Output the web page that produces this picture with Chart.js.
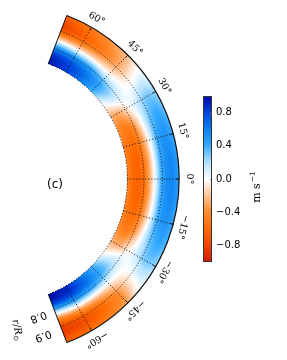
<!DOCTYPE html>
<html>
<head>
<meta charset="utf-8">
<script src="https://cdn.jsdelivr.net/npm/chart.js@4.4.1/dist/chart.umd.min.js"></script>
<style>
  body { margin: 0; background: #fff; }
  #wrap { position: relative; width: 287px; height: 360px; }
  #main { position: absolute; left: 0; top: 0; }
  #cbar { position: absolute; left: 190px; top: 80px; }
</style>
</head>
<body>
<div id="wrap">
  <canvas id="main" width="287" height="360"></canvas>
  <canvas id="cbar" width="97" height="200"></canvas>
</div>
<script>
// latitude rows (deg) and radius columns (r/Rsun)
const lats = [69, 60, 52, 45, 40, 35, 30, 22, 15, 7, 0, -7, -15, -22, -30, -35, -40, -45, -52, -60, -69];
const radii = [0.71, 0.74, 0.77, 0.80, 0.83, 0.86, 0.89, 0.92, 0.95, 0.99];
// velocity in m/s, one row per latitude
const vel = [
  [ 0.95,  0.95,  0.85,  0.60,  0.22, -0.20, -0.60, -0.80, -0.78, -0.60],
  [ 0.80,  0.82,  0.75,  0.55,  0.20, -0.20, -0.50, -0.65, -0.60, -0.50],
  [ 0.60,  0.66,  0.62,  0.48,  0.18, -0.15, -0.38, -0.50, -0.45, -0.35],
  [ 0.38,  0.45,  0.45,  0.32,  0.10, -0.10, -0.25, -0.30, -0.28, -0.20],
  [ 0.15,  0.25,  0.28,  0.22,  0.08, -0.02, -0.10, -0.10, -0.05,  0.00],
  [-0.10,  0.00,  0.08,  0.10,  0.05,  0.02,  0.05,  0.12,  0.15,  0.10],
  [-0.25, -0.30, -0.25, -0.10,  0.00,  0.10,  0.20,  0.30,  0.30,  0.25],
  [-0.40, -0.50, -0.50, -0.40, -0.15,  0.10,  0.30,  0.40,  0.45,  0.35],
  [-0.45, -0.55, -0.60, -0.50, -0.25,  0.05,  0.35,  0.50,  0.52,  0.42],
  [-0.45, -0.60, -0.65, -0.55, -0.30,  0.05,  0.37,  0.53,  0.57,  0.47],
  [-0.45, -0.60, -0.65, -0.55, -0.30,  0.05,  0.37,  0.53,  0.57,  0.47],
  [-0.45, -0.60, -0.65, -0.55, -0.30,  0.05,  0.37,  0.53,  0.57,  0.47],
  [-0.45, -0.55, -0.60, -0.50, -0.25,  0.05,  0.35,  0.50,  0.52,  0.42],
  [-0.40, -0.50, -0.50, -0.40, -0.15,  0.10,  0.30,  0.40,  0.45,  0.35],
  [-0.25, -0.30, -0.25, -0.10,  0.00,  0.10,  0.20,  0.30,  0.30,  0.25],
  [-0.10,  0.00,  0.08,  0.10,  0.05,  0.02,  0.05,  0.12,  0.15,  0.10],
  [ 0.15,  0.25,  0.28,  0.20,  0.05, -0.05, -0.12, -0.12, -0.08,  0.00],
  [ 0.38,  0.45,  0.45,  0.32,  0.08, -0.15, -0.30, -0.40, -0.40, -0.30],
  [ 0.62,  0.68,  0.64,  0.45,  0.10, -0.25, -0.48, -0.60, -0.55, -0.45],
  [ 0.88,  0.90,  0.78,  0.50,  0.10, -0.35, -0.62, -0.75, -0.70, -0.55],
  [ 1.00,  0.97,  0.80,  0.40, -0.10, -0.50, -0.75, -0.85, -0.80, -0.60]
];
const latTicks = [60, 45, 30, 15, 0, -15, -30, -45, -60];
const radTicks = [0.8, 0.9];
const cbTicks = [-0.8, -0.4, 0.0, 0.4, 0.8];

const cmapVals = [-1, -0.8, -0.6, -0.4, -0.2, 0, 0.2, 0.4, 0.6, 0.8, 1];
const cmapCols = ['#d01a00', '#ee4400', '#ff6a00', '#ff8c2e', '#ffc498', '#ffffff',
                  '#b4e2ff', '#38acff', '#0a80f0', '#0044dc', '#0008a8'];

const R_ORIGIN = 0.0432;   // polar origin offset
const LAT_MAX = 69;
const deg = Math.PI / 180;

function hexRgb(h) {
  return [parseInt(h.slice(1, 3), 16), parseInt(h.slice(3, 5), 16), parseInt(h.slice(5, 7), 16)];
}
const cmapRgb = cmapCols.map(hexRgb);
function colorFor(v) {
  if (v <= cmapVals[0]) return cmapRgb[0];
  for (let i = 0; i < cmapVals.length - 1; i++) {
    if (v <= cmapVals[i + 1]) {
      const t = (v - cmapVals[i]) / (cmapVals[i + 1] - cmapVals[i]);
      const a = cmapRgb[i], b = cmapRgb[i + 1];
      return [a[0] + (b[0] - a[0]) * t, a[1] + (b[1] - a[1]) * t, a[2] + (b[2] - a[2]) * t];
    }
  }
  return cmapRgb[cmapRgb.length - 1];
}

// shading between grid nodes
function valueAt(lat, r) {
  let i = 0;
  while (i < lats.length - 2 && lat < lats[i + 1]) i++;
  let j = 0;
  while (j < radii.length - 2 && r > radii[j + 1]) j++;
  const tl = Math.min(1, Math.max(0, (lats[i] - lat) / (lats[i] - lats[i + 1])));
  const tr = Math.min(1, Math.max(0, (r - radii[j]) / (radii[j + 1] - radii[j])));
  const a = vel[i][j] * (1 - tr) + vel[i][j + 1] * tr;
  const b = vel[i + 1][j] * (1 - tr) + vel[i + 1][j + 1] * tr;
  return a * (1 - tl) + b * tl;
}

const nodes = [];
lats.forEach((la, i) => radii.forEach((r, j) => {
  nodes.push({ x: (r - R_ORIGIN) * Math.cos(la * deg), y: (r - R_ORIGIN) * Math.sin(la * deg), v: vel[i][j] });
}));

const fieldPlugin = {
  id: 'field',
  beforeDatasetsDraw(chart) {
    const { ctx, scales: { x, y } } = chart;
    const cx = x.getPixelForValue(0), cy = y.getPixelForValue(0);
    const px = (r, la) => [x.getPixelForValue((r - R_ORIGIN) * Math.cos(la * deg)),
                           y.getPixelForValue((r - R_ORIGIN) * Math.sin(la * deg))];
    const rad = r => x.getPixelForValue(r - R_ORIGIN) - cx;
    const rIn = radii[0], rOut = radii[radii.length - 1];

    // field image
    const x0 = Math.floor(px(rIn, LAT_MAX)[0]) - 1, x1 = Math.ceil(cx + rad(rOut)) + 1;
    const y0 = Math.floor(px(rOut, LAT_MAX)[1]) - 1, y1 = Math.ceil(px(rOut, -LAT_MAX)[1]) + 1;
    const w = x1 - x0, h = y1 - y0;
    const off = document.createElement('canvas');
    off.width = w; off.height = h;
    const octx = off.getContext('2d');
    const img = octx.createImageData(w, h);
    for (let py = 0; py < h; py++) {
      for (let pxx = 0; pxx < w; pxx++) {
        const vx = x.getValueForPixel(x0 + pxx + 0.5), vy = y.getValueForPixel(y0 + py + 0.5);
        const r = Math.hypot(vx, vy) + R_ORIGIN;
        const la = Math.atan2(vy, vx) / deg;
        if (r < rIn || r > rOut || Math.abs(la) > LAT_MAX) continue;
        const c = colorFor(valueAt(la, r));
        const k = (py * w + pxx) * 4;
        img.data[k] = c[0]; img.data[k + 1] = c[1]; img.data[k + 2] = c[2]; img.data[k + 3] = 255;
      }
    }
    octx.putImageData(img, 0, 0);
    ctx.drawImage(off, x0, y0);

    ctx.save();
    ctx.strokeStyle = '#111';
    // dotted grid arcs and radial lines
    ctx.lineWidth = 1;
    ctx.setLineDash([1, 2]);
    [rIn].concat(radTicks).forEach(r => {
      ctx.beginPath();
      ctx.arc(cx, cy, rad(r), -LAT_MAX * deg, LAT_MAX * deg);
      ctx.stroke();
    });
    latTicks.forEach(la => {
      const a = px(rIn, la), b = px(rOut, la);
      ctx.beginPath(); ctx.moveTo(a[0], a[1]); ctx.lineTo(b[0], b[1]); ctx.stroke();
    });
    ctx.setLineDash([]);
    // tick marks on outer edge
    latTicks.forEach(la => {
      const a = px(rOut - 0.018, la), b = px(rOut, la);
      ctx.beginPath(); ctx.moveTo(a[0], a[1]); ctx.lineTo(b[0], b[1]); ctx.stroke();
    });
    // outer edge and end edges
    ctx.lineWidth = 1.2;
    ctx.beginPath();
    ctx.arc(cx, cy, rad(rOut), -LAT_MAX * deg, LAT_MAX * deg);
    ctx.stroke();
    ctx.lineWidth = 1;
    [LAT_MAX, -LAT_MAX].forEach(la => {
      const a = px(rIn, la), b = px(rOut, la);
      ctx.beginPath(); ctx.moveTo(a[0], a[1]); ctx.lineTo(b[0], b[1]); ctx.stroke();
    });

    // latitude labels
    ctx.fillStyle = '#000';
    ctx.textAlign = 'center';
    ctx.textBaseline = 'middle';
    ctx.font = '9.5px "DejaVu Serif"';
    const rl = rad(rOut) + 10;
    latTicks.forEach(la => {
      const lx = cx + rl * Math.cos(la * deg), ly = cy - rl * Math.sin(la * deg);
      ctx.save();
      ctx.translate(lx, ly);
      ctx.rotate((90 - la) * deg);
      ctx.fillText(String(la).replace('-', '\u2212') + '\u00b0', 0, 0);
      ctx.restore();
    });

    // radius labels
    ctx.font = '10.5px "DejaVu Sans"';
    radTicks.forEach((r, i) => {
      const rr = rad(r) + 2 + i;
      const lx = cx + rr * Math.cos(-76 * deg), ly = cy - rr * Math.sin(-76 * deg);
      ctx.save();
      ctx.translate(lx, ly);
      ctx.rotate(159 * deg);
      ctx.fillText(r.toFixed(1), 0, 0);
      ctx.restore();
    });

    // axis name
    ctx.save();
    ctx.translate(17, 330);
    ctx.rotate(78 * deg);
    ctx.font = 'italic 10px "DejaVu Serif"';
    ctx.textAlign = 'left';
    const t1 = 'r/R';
    const w1 = ctx.measureText(t1).width;
    ctx.font = '7px "DejaVu Sans"';
    const w2 = ctx.measureText('\u2299').width;
    const start = -(w1 + w2) / 2;
    ctx.font = 'italic 10px "DejaVu Serif"';
    ctx.fillText(t1, start, 0);
    ctx.font = '7px "DejaVu Sans"';
    ctx.fillText('\u2299', start + w1, 3);
    ctx.restore();

    // panel label
    ctx.font = '12px "DejaVu Sans"';
    ctx.textAlign = 'center';
    ctx.fillText('(c)', 55, 185);
    ctx.restore();
  }
};

new Chart(document.getElementById('main'), {
  type: 'scatter',
  data: { datasets: [{ data: nodes, pointRadius: 0, showLine: false }] },
  options: {
    responsive: false,
    animation: false,
    devicePixelRatio: 1,
    layout: { padding: 0 },
    plugins: { legend: { display: false }, tooltip: { enabled: false } },
    scales: {
      x: { type: 'linear', display: false, min: -4 / 185, max: 283 / 185 },
      y: { type: 'linear', display: false, min: -181 / 185, max: 179 / 185 }
    }
  },
  plugins: [fieldPlugin]
});

const cbarPlugin = {
  id: 'cbar',
  beforeDatasetsDraw(chart) {
    const { ctx, chartArea: a, scales: { y } } = chart;
    const g = ctx.createLinearGradient(0, y.getPixelForValue(-1), 0, y.getPixelForValue(1));
    cmapVals.forEach((v, i) => g.addColorStop((v + 1) / 2, cmapCols[i]));
    ctx.save();
    ctx.fillStyle = g;
    ctx.fillRect(a.left, a.top, a.right - a.left, a.bottom - a.top);
    ctx.strokeStyle = '#888';
    ctx.lineWidth = 1;
    cbTicks.forEach(v => {
      const p = Math.round(y.getPixelForValue(v)) + 0.5;
      ctx.beginPath(); ctx.moveTo(a.right - 2, p); ctx.lineTo(a.right, p); ctx.stroke();
    });
    ctx.strokeStyle = '#333';
    ctx.strokeRect(a.left + 0.5, a.top + 0.5, a.right - a.left - 1, a.bottom - a.top - 1);
    // unit label
    ctx.translate(67, 107);
    ctx.rotate(-90 * deg);
    ctx.fillStyle = '#000';
    ctx.textBaseline = 'middle';
    ctx.font = '11px "DejaVu Serif"';
    const wa = ctx.measureText('m s').width;
    ctx.font = '7.5px "DejaVu Serif"';
    const wb = ctx.measureText('\u22121').width;
    const s = -(wa + wb + 1) / 2;
    ctx.textAlign = 'left';
    ctx.font = '11px "DejaVu Serif"';
    ctx.fillText('m s', s, 0);
    ctx.font = '7.5px "DejaVu Serif"';
    ctx.fillText('\u22121', s + wa + 1, -4);
    ctx.restore();
  }
};

new Chart(document.getElementById('cbar'), {
  type: 'bar',
  data: { labels: [''], datasets: [{ data: [], backgroundColor: 'transparent' }] },
  options: {
    responsive: false,
    animation: false,
    devicePixelRatio: 1,
    layout: { padding: { left: 13, right: 0, top: 16, bottom: 18 } },
    plugins: { legend: { display: false }, tooltip: { enabled: false } },
    scales: {
      x: { display: false },
      y: {
        position: 'right',
        min: -1, max: 1,
        afterBuildTicks: sc => { sc.ticks = cbTicks.map(v => ({ value: v })); },
        afterFit: sc => { sc.width = 75; },
        grid: { display: false, drawTicks: false },
        border: { display: false },
        ticks: {
          padding: 4,
          color: '#000',
          font: { family: 'DejaVu Sans', size: 10 },
          callback: v => Number(v).toFixed(1).replace('-', '\u2212')
        }
      }
    }
  },
  plugins: [cbarPlugin]
});
</script>
</body>
</html>
